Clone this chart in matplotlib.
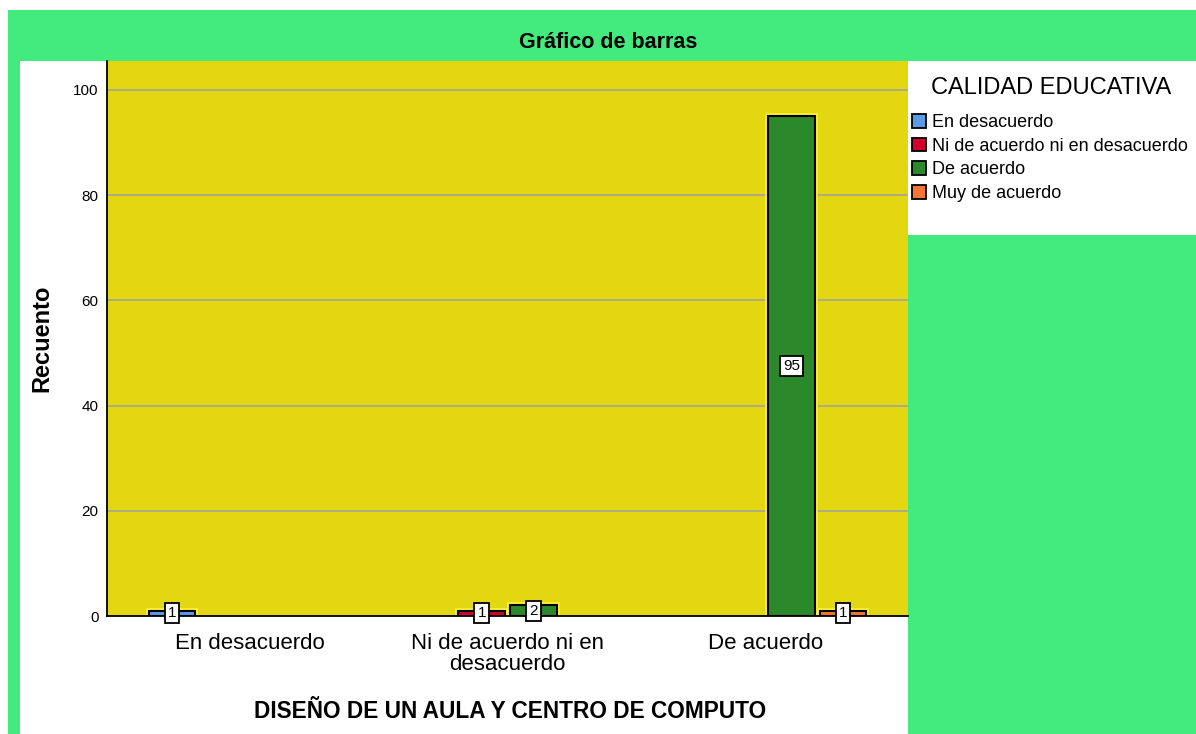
import matplotlib.pyplot as plt
import matplotlib.patheffects as pe
from matplotlib.patches import Rectangle, Patch

plt.rcParams['font.family'] = ['Liberation Sans', 'DejaVu Sans']

# datos
grupos = ["En desacuerdo", "Ni de acuerdo ni en\ndesacuerdo", "De acuerdo"]
series = ["En desacuerdo", "Ni de acuerdo ni en desacuerdo", "De acuerdo", "Muy de acuerdo"]
en_desacuerdo = [1, 0, 0]
ni_ni = [0, 1, 0]
de_acuerdo = [0, 2, 95]
muy_de_acuerdo = [0, 0, 1]
colores = ["#5b9be6", "#d0022b", "#2b882b", "#f47535"]

valores = [en_desacuerdo, ni_ni, de_acuerdo, muy_de_acuerdo]

W, H = 1196, 734
fig = plt.figure(figsize=(W / 100, H / 100), dpi=100, facecolor="white")

# fondos
fig.patches.append(Rectangle((8 / W, 0), 1, (H - 10) / H, transform=fig.transFigure,
                             facecolor="#43eb7f", edgecolor="none", zorder=-3))
fig.patches.append(Rectangle((20 / W, 0), (908 - 20) / W, (H - 61) / H, transform=fig.transFigure,
                             facecolor="white", edgecolor="none", zorder=-2))
fig.patches.append(Rectangle((908 / W, (H - 235) / H), (W - 908) / W, (235 - 61) / H,
                             transform=fig.transFigure, facecolor="white", edgecolor="none", zorder=-2))

ax = fig.add_axes([107 / W, (H - 616) / H, 801 / W, 555 / H])
ax.set_facecolor("#e3d712")

slot = 0.2
ancho = 0.18
for j, (nombre, vals, c) in enumerate(zip(series, valores, colores)):
    for i, v in enumerate(vals):
        if v == 0:
            continue
        x = i + (j - 1.5) * slot
        b = ax.bar(x, v, width=ancho, color=c, edgecolor="black", linewidth=1.5, zorder=3)
        b[0].set_path_effects([pe.withStroke(linewidth=4, foreground="#fff23a")])
        ax.text(x, v / 2, str(v), ha="center", va="center", fontsize=11, zorder=5,
                bbox=dict(boxstyle="square,pad=0.2", facecolor="white", edgecolor="black", linewidth=1.3))

ax.set_xlim(-0.552, 2.552)
ax.set_ylim(0, 105.5)
ax.set_yticks([0, 20, 40, 60, 80, 100])
ax.set_xticks(range(3))
ax.set_xticklabels(grupos, fontsize=16, linespacing=1.0)
ax.tick_params(axis="x", length=0, pad=12)
ax.tick_params(axis="y", length=0, pad=6, labelsize=11)
ax.yaxis.grid(True, color="#a8a890", linewidth=1.3, zorder=1)
ax.set_axisbelow(True)
for s in ["top", "right"]:
    ax.spines[s].set_visible(False)
for s in ["left", "bottom"]:
    ax.spines[s].set_linewidth(1.3)
    ax.spines[s].set_zorder(4)

fig.text(608 / W, 1 - 42 / H, "Gráfico de barras", ha="center", va="center", fontsize=15.5, fontweight="bold")
fig.text(42 / W, 1 - 338 / H, "Recuento", ha="center", va="center", rotation=90, fontsize=17, fontweight="bold")
fig.text(510 / W, 1 - 711 / H, "DISEÑO DE UN AULA Y CENTRO DE COMPUTO", ha="center", va="center",
         fontsize=16.3, fontweight="bold")

# leyenda
fig.text(1051 / W, 1 - 88 / H, "CALIDAD EDUCATIVA", ha="center", va="center", fontsize=17)
handles = [Patch(facecolor=c, edgecolor="black", linewidth=1.3) for c in colores]
leg = fig.legend(handles, series, loc="upper left", bbox_to_anchor=(901 / W, 1 - 103 / H),
                 frameon=False, fontsize=13,
                 handlelength=0.8, handleheight=0.8, handletextpad=0.3, labelspacing=0.36,
                 borderpad=0.1)

fig.savefig("out.png", dpi=100, facecolor=fig.get_facecolor())
